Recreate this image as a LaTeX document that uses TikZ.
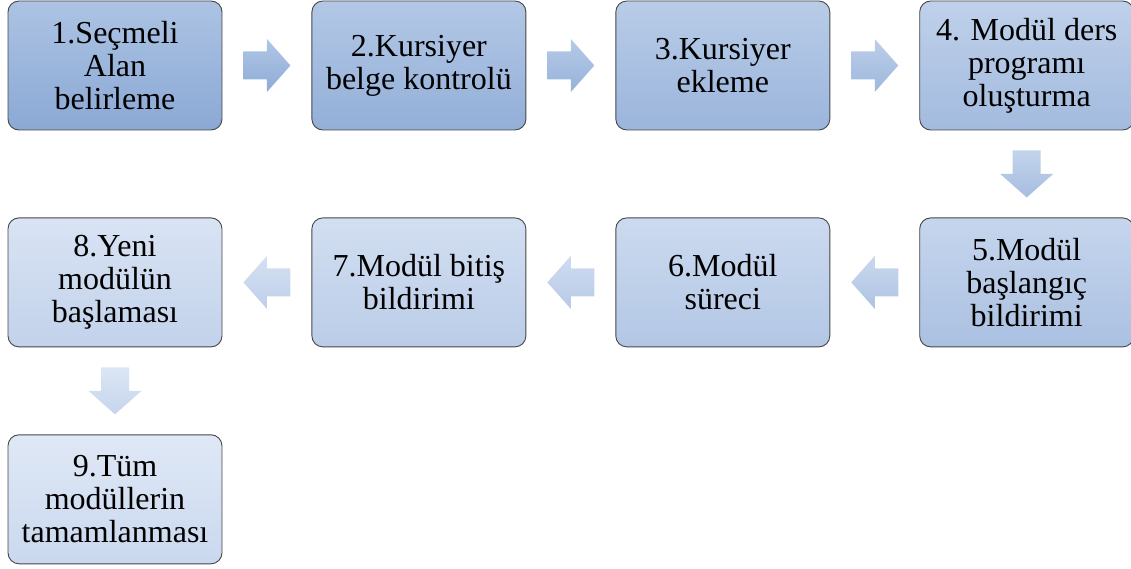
\documentclass[tikz,border=0pt]{standalone}
\usepackage{fontspec}
\setmainfont{Liberation Serif}
\usepackage{tikz}
\usetikzlibrary{positioning, calc}
\definecolor{boxtopdark}{RGB}{172,195,227}
\definecolor{boxbotdark}{RGB}{139,169,213}
\definecolor{boxtoplight}{RGB}{223,232,246}
\definecolor{boxbotlight}{RGB}{202,216,238}
\definecolor{boxline}{RGB}{70,70,70}

\begin{document}
\begin{tikzpicture}[
    x=1pt, y=-1pt,
    node distance=87pt and 89pt,
    stage/.style={draw=boxline, line width=0.9pt, rounded corners=11pt, minimum width=214pt, minimum height=129pt, inner sep=0pt, text width=206pt, align=flush center, font=\fontsize{32}{33}\selectfont, top color=boxtopdark!#1!boxtoplight, bottom color=boxbotdark!#1!boxbotlight},
    blockarrow/.pic={\path[top color=boxtopdark!#1!boxtoplight, bottom color=boxbotdark!#1!boxbotlight] (-23.5,-14) -- (0,-14) -- (0,-26.5) -- (23.5,0) -- (0,26.5) -- (0,14) -- (-23.5,14) -- cycle;}
]
\useasboundingbox (0,0) rectangle (1131,569);

% First row
\node[stage=100] at (115,65.5) (b1) {1.Seçmeli\\Alan\\belirleme};
\node[stage=87.5, right=of b1] (b2) {2.Kursiyer\\belge kontrolü};
\node[stage=75, right=of b2] (b3) {3.Kursiyer\\ekleme};
\node[stage=62.5, right=of b3] (b4) {4. Modül ders\\programı\\oluşturma};

% Second row
\node[stage=50, below=of b4] (b5) {5.Modül\\başlangıç\\bildirimi};
\node[stage=37.5, left=of b5] (b6) {6.Modül\\süreci};
\node[stage=25, left=of b6] (b7) {7.Modül bitiş\\bildirimi};
\node[stage=12.5, left=of b7] (b8) {8.Yeni\\modülün\\başlaması};

% Last box
\node[stage=0, below=of b8] (b9) {9.Tüm\\modüllerin\\tamamlanması};

% Arrows
\pic at ($(b1.east)!0.5!(b2.west)$) {blockarrow=93.75};
\pic at ($(b2.east)!0.5!(b3.west)$) {blockarrow=81.25};
\pic at ($(b3.east)!0.5!(b4.west)$) {blockarrow=68.75};
\pic[rotate=-90] at ($(b4.south)!0.5!(b5.north)$) {blockarrow=56.25};
\pic[rotate=180] at ($(b5.west)!0.5!(b6.east)$) {blockarrow=43.75};
\pic[rotate=180] at ($(b6.west)!0.5!(b7.east)$) {blockarrow=31.25};
\pic[rotate=180] at ($(b7.west)!0.5!(b8.east)$) {blockarrow=18.75};
\pic[rotate=-90] at ($(b8.south)!0.5!(b9.north)$) {blockarrow=6.25};

\end{tikzpicture}
\end{document}
